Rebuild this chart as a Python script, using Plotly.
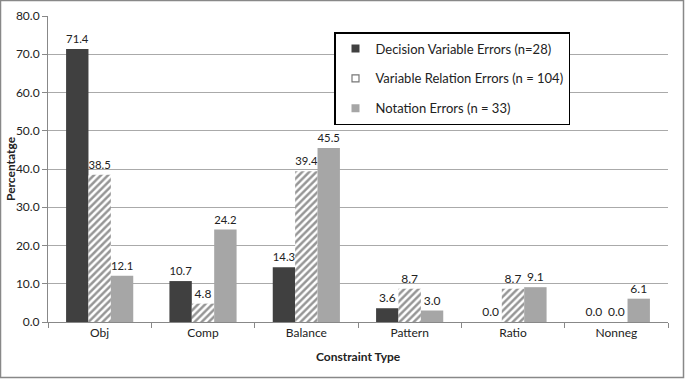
import plotly.graph_objects as go

categories = ["Obj", "Comp", "Balance", "Pattern", "Ratio", "Nonneg"]
decision = [71.4, 10.7, 14.3, 3.6, 0.0, 0.0]
relation = [38.5, 4.8, 39.4, 8.7, 8.7, 0.0]
notation = [12.1, 24.2, 45.5, 3.0, 9.1, 6.1]
series_names = ["Decision Variable Errors (n=28)",
                "Variable Relation Errors (n = 104)",
                "Notation Errors (n = 33)"]
y_ticks = [0, 10, 20, 30, 40, 50, 60, 70, 80]

FONT = "Lato, 'Open Sans', sans-serif"
W, H = 685, 379
L, R, T, B = 48, 17, 16, 57
pw, ph = W - L - R, H - T - B

DARK, LIGHT = "#404040", "#a6a6a6"

fig = go.Figure()
fig.add_trace(go.Bar(x=categories, y=decision, name=series_names[0],
                     marker=dict(color=DARK, line=dict(width=0)),
                     text=[f"{v:.1f}" for v in decision], textposition="outside",
                     showlegend=False))
fig.add_trace(go.Bar(x=categories, y=relation, name=series_names[1],
                     marker=dict(color="white", line=dict(width=0),
                                 pattern=dict(shape="/", fgcolor="#2e2e2e", bgcolor="white",
                                              size=5, solidity=0.5)),
                     text=[f"{v:.1f}" for v in relation], textposition="outside",
                     showlegend=False))
fig.add_trace(go.Bar(x=categories, y=notation, name=series_names[2],
                     marker=dict(color=LIGHT, line=dict(width=0)),
                     text=[f"{v:.1f}" for v in notation], textposition="outside",
                     showlegend=False))
fig.update_traces(textfont=dict(size=12, color="#222"), cliponaxis=False)

# legend-only entries with small square markers
leg_markers = [
    dict(symbol="square", size=8, color=DARK),
    dict(symbol="square-open", size=7, color="#777", line=dict(width=1.2)),
    dict(symbol="square", size=8, color=LIGHT),
]
for i, (nm, mk) in enumerate(zip(series_names, leg_markers)):
    fig.add_trace(go.Scatter(x=[None], y=[None], mode="markers", name=nm,
                             marker=mk, legendgroup=f"g{i}", showlegend=True,
                             hoverinfo="skip"))

fig.update_layout(
    width=W, height=H,
    margin=dict(l=L, r=R, t=T, b=B),
    paper_bgcolor="white", plot_bgcolor="white",
    font=dict(family=FONT, size=12, color="#222"),
    barmode="group", bargap=0.35, bargroupgap=0,
    showlegend=True,
    legend=dict(x=(334 - L) / pw, y=1 - (32 - T) / ph, xanchor="left", yanchor="top",
                bgcolor="white", bordercolor="black", borderwidth=1.5,
                font=dict(size=13, family=FONT, color="#222"),
                tracegroupgap=10, itemwidth=30),
    xaxis=dict(showline=True, linecolor="#888", linewidth=1, ticks="outside",
               tickson="boundaries", ticklen=5, tickcolor="#888",
               tickfont=dict(size=12), automargin=False),
    yaxis=dict(range=[0, 80], tickvals=y_ticks, ticktext=[f"{v:.1f}" for v in y_ticks],
               showline=True, linecolor="#888", linewidth=1, ticks="outside",
               ticklen=5, tickcolor="#888", showgrid=True, gridcolor="#aaa", gridwidth=1,
               zeroline=False, tickfont=dict(size=12), automargin=False),
    annotations=[
        dict(text="<b>Constraint Type</b>", xref="paper", yref="paper",
             x=0.5, y=-(356 - T - ph) / ph, xanchor="center", yanchor="middle",
             showarrow=False, font=dict(size=12)),
        dict(text="<b>Percentatge</b>", xref="paper", yref="paper",
             x=-(L - 10) / pw, y=0.5, xanchor="center", yanchor="middle",
             textangle=-90, showarrow=False, font=dict(size=12)),
    ],
    shapes=[dict(type="rect", xref="paper", yref="paper",
                 x0=(0.5 - L) / pw, x1=(W - 1.5 - L) / pw,
                 y0=-(H - 1.5 - T - ph) / ph, y1=1 + (T - 0.5) / ph,
                 line=dict(color="#888", width=1.5), layer="below")],
)

fig.write_html("out.html", config={"displayModeBar": False},
               post_script="document.body.style.margin='0';")
